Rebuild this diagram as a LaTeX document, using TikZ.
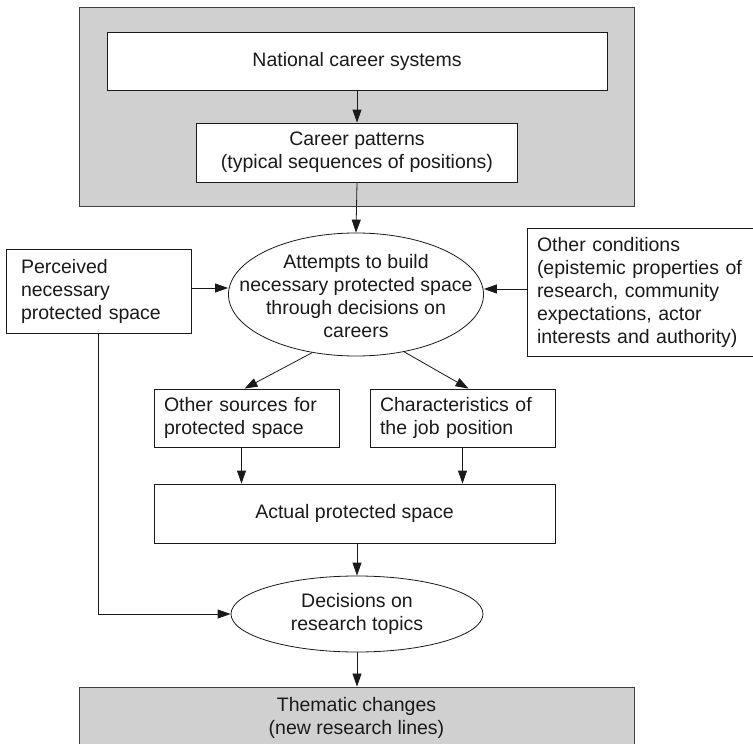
\documentclass[tikz,border=0pt]{standalone}
\usepackage{fontspec}
\setmainfont{Liberation Sans}
\usetikzlibrary{arrows.meta,shapes.geometric}
\definecolor{panel}{HTML}{D0D0D0}
\definecolor{ink}{HTML}{1A1A1A}
\tikzset{
  base/.style={font={\fontsize{19.5}{23}\selectfont}, text=ink},
  box/.style={base, draw=ink, line width=0.8pt, fill=white, rectangle, inner sep=0pt, align=center},
  lbox/.style={base, draw=ink, line width=0.8pt, fill=white, rectangle, inner ysep=0pt, align=left},
  panelbox/.style={draw=black!75, line width=0.9pt, fill=panel, rectangle, inner sep=0pt},
  ell/.style={draw=ink, line width=0.8pt, fill=white, ellipse, inner sep=0pt},
  txt/.style={base, align=center, inner sep=0pt},
  arr/.style={draw=ink, line width=0.8pt, -{Triangle[length=13pt,width=9pt]}},
  ln/.style={draw=ink, line width=0.8pt}
}
\begin{document}
\begin{tikzpicture}[x=1pt,y=-1pt]
\useasboundingbox (0,0) rectangle (753,744);
% top gray panel
\node[panelbox, minimum width=555pt, minimum height=199pt] (top) at (356.5,106.5) {};
\node[box, minimum width=500pt, minimum height=58pt] (nat) at (357,61) {National career systems};
\node[box, minimum width=321pt, minimum height=59pt] (pat) at (357,152.5) {Career patterns\\(typical sequences of positions)};
% ellipse 1
\node[ell, minimum width=255pt, minimum height=123pt] (att) at (356,294.5) {};
\node[txt] (attT) at (356,296) {Attempts to build\\necessary protected space\\through decisions on\\careers};
% side boxes
\node[lbox, inner xsep=15pt, text width=155pt, minimum height=84pt] (perc) at (98.5,291) {Perceived\\necessary\\protected space};
\node[lbox, inner xsep=10pt, text width=210pt, minimum height=128pt] (oth) at (642,292) {Other conditions\\(epistemic properties of\\research, community\\expectations, actor\\interests and authority)};
% middle boxes
\node[lbox, inner xsep=10pt, text width=165pt, minimum height=58pt] (src) at (246.5,418) {Other sources for\\protected space};
\node[lbox, inner xsep=10pt, text width=165pt, minimum height=58pt] (chr) at (462.5,418) {Characteristics of\\the job position};
\node[box, minimum width=401pt, minimum height=59pt] (act) at (354.5,513.5) {Actual protected space};
% ellipse 2
\node[ell, minimum width=252pt, minimum height=76pt] (dec) at (357,614) {};
\node[txt] (decT) at (357,614) {Decisions on\\research topics};
% bottom gray panel
\node[panelbox, base, align=center, minimum width=555pt, minimum height=62pt] (thm) at (356.5,718) {Thematic changes\\(new research lines)};
% connectors
\draw[arr] (nat.south) -- (pat.north);
\draw[arr] (pat.south) -- (att.north);
\draw[arr] (perc.east |- 0,288) -- (att.west |- 0,288);
\draw[arr] (oth.west |- 0,289) -- (att.east |- 0,289);
\draw[arr] (att.-127.6) -- ([xshift=-2pt]src.north);
\draw[arr] (att.-50) -- ([xshift=6pt]chr.north);
\draw[arr] ([xshift=-5pt]src.south) -- ([xshift=-5pt]src.south |- act.north);
\draw[arr] (chr.south) -- (chr.south |- act.north);
\draw[arr] (act.south -| dec.north) -- (dec.north);
\draw[arr] (perc.south) |- (dec.west);
\draw[arr] (dec.south) -- (thm.north -| dec.south);
\end{tikzpicture}
\end{document}
